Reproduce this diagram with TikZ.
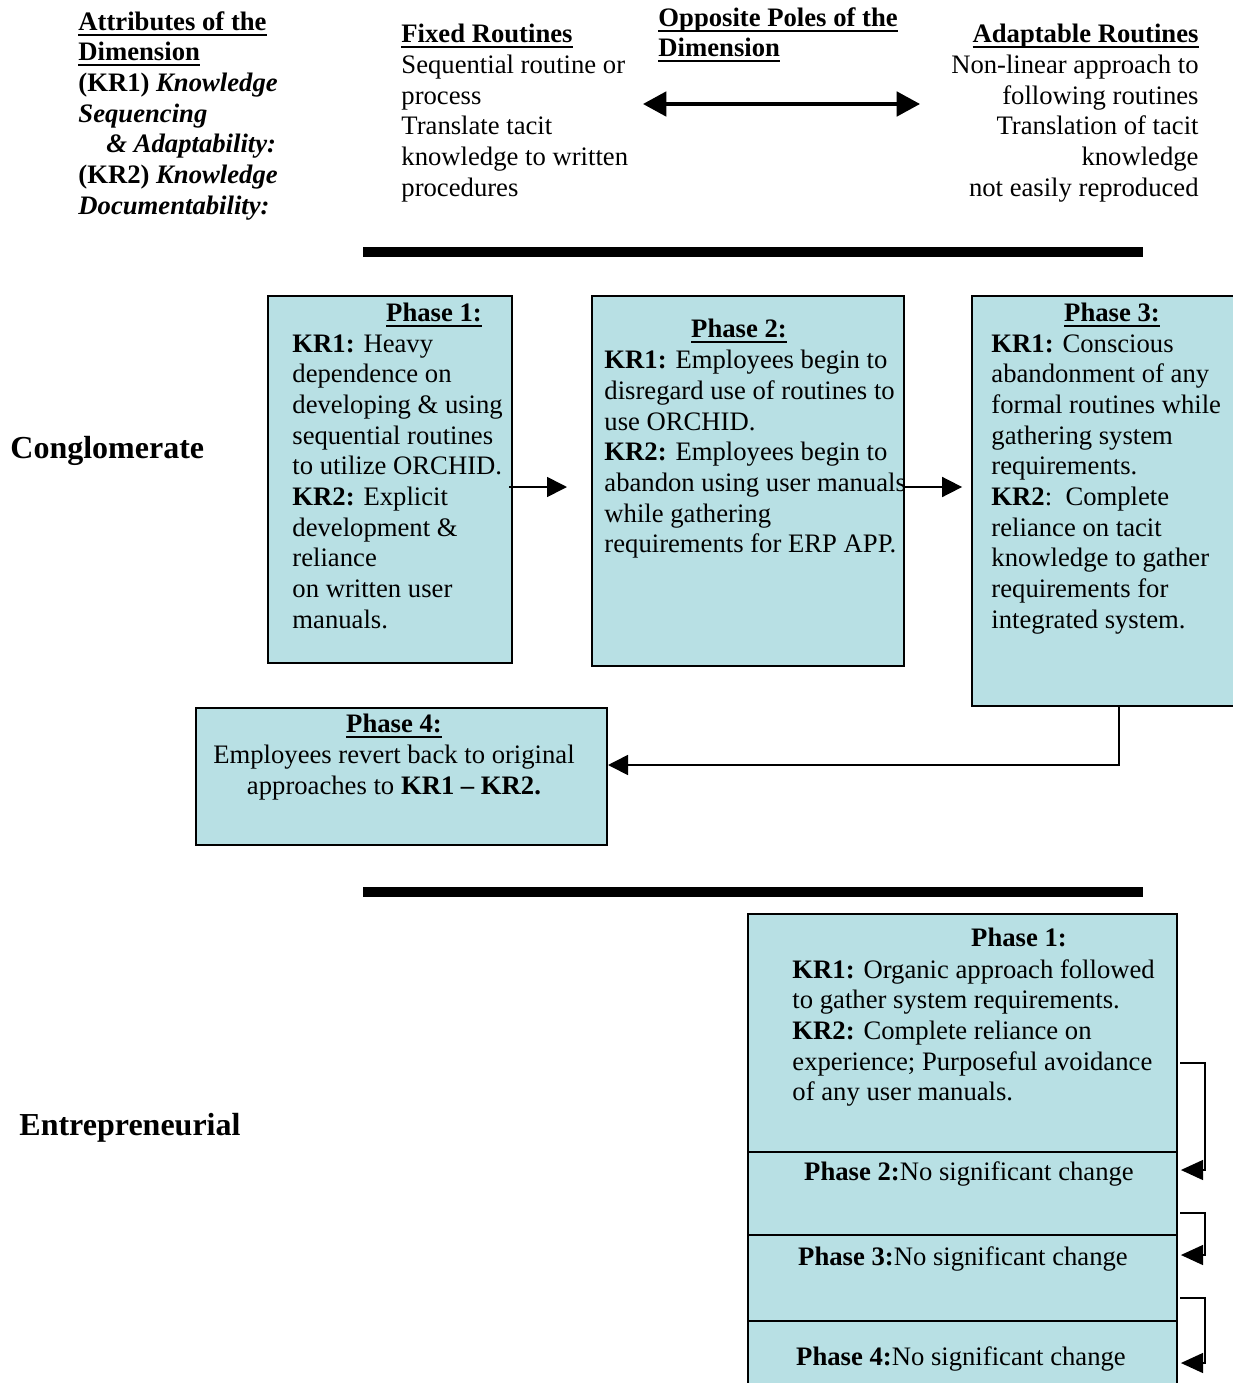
\documentclass[tikz,border=0pt]{standalone}
\usepackage{fontspec}
\setmainfont{Liberation Serif}
\usetikzlibrary{arrows.meta,calc}
\definecolor{boxfill}{RGB}{184,224,228}
\newcommand\myul[1]{{\setbox0\hbox{#1}\rlap{\rule[-2.4pt]{\wd0}{0.85pt}}\box0}}
\begin{document}
\begin{tikzpicture}[x=0.45pt,y=-0.45pt,
  box/.style={draw=black, line width=0.9pt, fill=boxfill, rectangle, inner sep=0pt, anchor=north west},
  txt/.style={inner sep=0pt, align=left, anchor=north west, font=\fontsize{12}{13.8}\selectfont},
  rtxt/.style={inner sep=0pt, align=right, anchor=north east, font=\fontsize{12}{13.8}\selectfont},
  ttl/.style={inner sep=0pt, anchor=center, font=\fontsize{12}{13.8}\selectfont\bfseries},
  big/.style={inner sep=0pt, anchor=west, font=\fontsize{14.4}{16}\selectfont\bfseries},
  arr/.style={line width=0.75pt, -{Triangle[length=9pt,width=9pt]}},
  arrb/.style={line width=0.75pt, -{Triangle[length=10pt,width=9pt]}},
  dbl/.style={line width=1.6pt, {Triangle[length=10.5pt,width=11pt]}-{Triangle[length=10.5pt,width=11pt]}},
  bar/.style={line width=4.5pt}]
\useasboundingbox (0,0) rectangle (1233,1383);
\clip (0,0) rectangle (1233,1383);

% header texts
\node[txt] (attr) at (78,11) {\textbf{\myul{Attributes of the}}\\\textbf{\myul{Dimension}}\\\textbf{(KR1) \textit{Knowledge}}\\\textbf{\textit{Sequencing}}\\\hspace*{12.6pt}\textbf{\textit{\& Adaptability:}}\\\textbf{(KR2) \textit{Knowledge}}\\\textbf{\textit{Documentability:}}};
\node[txt] (fixed) at (401,24) {\textbf{\myul{Fixed Routines}}\\Sequential routine or\\process\\Translate tacit\\knowledge to written\\procedures};
\node[txt] (poles) at (658,7) {\textbf{\myul{Opposite Poles of the}}\\\textbf{\myul{Dimension}}};
\node[rtxt] (adapt) at (1199,24) {\textbf{\myul{Adaptable Routines}}\\Non-linear approach to\\following routines\\Translation of tacit\\knowledge\\not easily reproduced};
\coordinate (pl) at (643,104);
\coordinate (pr) at (920,104);
\draw[dbl] (pl) -- (pr);

\draw[bar] (363,252) -- (1143,252);
\draw[bar] (363,892) -- (1143,892);

% side labels
\node[big] (cong) at (10,451) {Conglomerate};
\node[big] (entr) at (19,1128) {Entrepreneurial};

% conglomerate boxes
\node[box, minimum width=244*0.45pt, minimum height=367*0.45pt] (c1) at (267,295) {};
\node[box, minimum width=312*0.45pt, minimum height=370*0.45pt] (c2) at (591,295) {};
\node[box, minimum width=290*0.45pt, minimum height=410*0.45pt] (c3) at (971,295) {};
\node[box, minimum width=411*0.45pt, minimum height=137*0.45pt] (c4) at (195,707) {};

\node[ttl] (c1t) at (434,315) {\myul{Phase 1:}};
\node[txt] (c1b) at (292,334) {\textbf{KR1:} Heavy\\dependence on\\developing \& using\\sequential routines\\to utilize ORCHID.\\\textbf{KR2:} Explicit\\development \&\\reliance\\on written user\\manuals.};
\node[ttl] (c2t) at (739,331) {\myul{Phase 2:}};
\node[txt] (c2b) at (604,350) {\textbf{KR1:} Employees begin to\\disregard use of routines to\\use ORCHID.\\\textbf{KR2:} Employees begin to\\abandon using user manuals\\while gathering\\requirements for ERP APP.};
\node[ttl] (c3t) at (1112,315) {\myul{Phase 3:}};
\node[txt] (c3b) at (991,334) {\textbf{KR1:} Conscious\\abandonment of any\\formal routines while\\gathering system\\requirements.\\\textbf{KR2}:\ \ Complete\\reliance on tacit\\knowledge to gather\\requirements for\\integrated system.};
\node[ttl] (c4t) at (394,726) {\myul{Phase 4:}};
\node[txt, align=center, anchor=north] (c4b) at (394,745) {Employees revert back to original\\approaches to \textbf{KR1 – KR2.}};

\coordinate (ya) at (0,487);
\draw[arr] ([xshift=-1.8pt]c1.east |- ya) -- ([xshift=-10.8pt]c2.west |- ya);
\draw[arr] (c2.east |- ya) -- ([xshift=-4pt]c3.west |- ya);
\coordinate (k3) at (1119,765);
\draw[arr] (c3.south -| k3) -- (k3) -- (c4.east |- k3);

% entrepreneurial boxes
\node[box, minimum width=429*0.45pt, minimum height=238*0.45pt] (e1) at (747,913) {};
\node[box, minimum width=429*0.45pt, minimum height=83*0.45pt] (e2) at (747,1151) {};
\node[box, minimum width=429*0.45pt, minimum height=86*0.45pt] (e3) at (747,1234) {};
\node[box, minimum width=429*0.45pt, minimum height=90*0.45pt] (e4) at (747,1320) {};

\node[ttl] (e1t) at (1019,937) {Phase 1:};
\node[txt] (e1b) at (792,959) {\textbf{KR1:} Organic approach followed\\to gather system requirements.\\\textbf{KR2:} Complete reliance on\\experience; Purposeful avoidance\\of any user manuals.};
\node[ttl, font=\fontsize{12}{13.8}\selectfont] (e2t) at (969,1174) {\textbf{Phase 2:}No significant change};
\node[ttl, font=\fontsize{12}{13.8}\selectfont] (e3t) at (963,1259) {\textbf{Phase 3:}No significant change};
\node[ttl, font=\fontsize{12}{13.8}\selectfont] (e4t) at (961,1359) {\textbf{Phase 4:}No significant change};

\draw[arrb] ([xshift=1pt]e1.east |- 0,1063) -- ++(25,0) |- ([xshift=1.3pt]e2.east |- 0,1170);
\draw[arrb] ([xshift=1pt]e2.east |- 0,1213) -- ++(25,0) |- ([xshift=1.3pt]e3.east |- 0,1255);
\draw[arrb] ([xshift=1pt]e3.east |- 0,1298) -- ++(25,0) |- ([xshift=1.3pt]e4.east |- 0,1363);
\end{tikzpicture}
\end{document}
